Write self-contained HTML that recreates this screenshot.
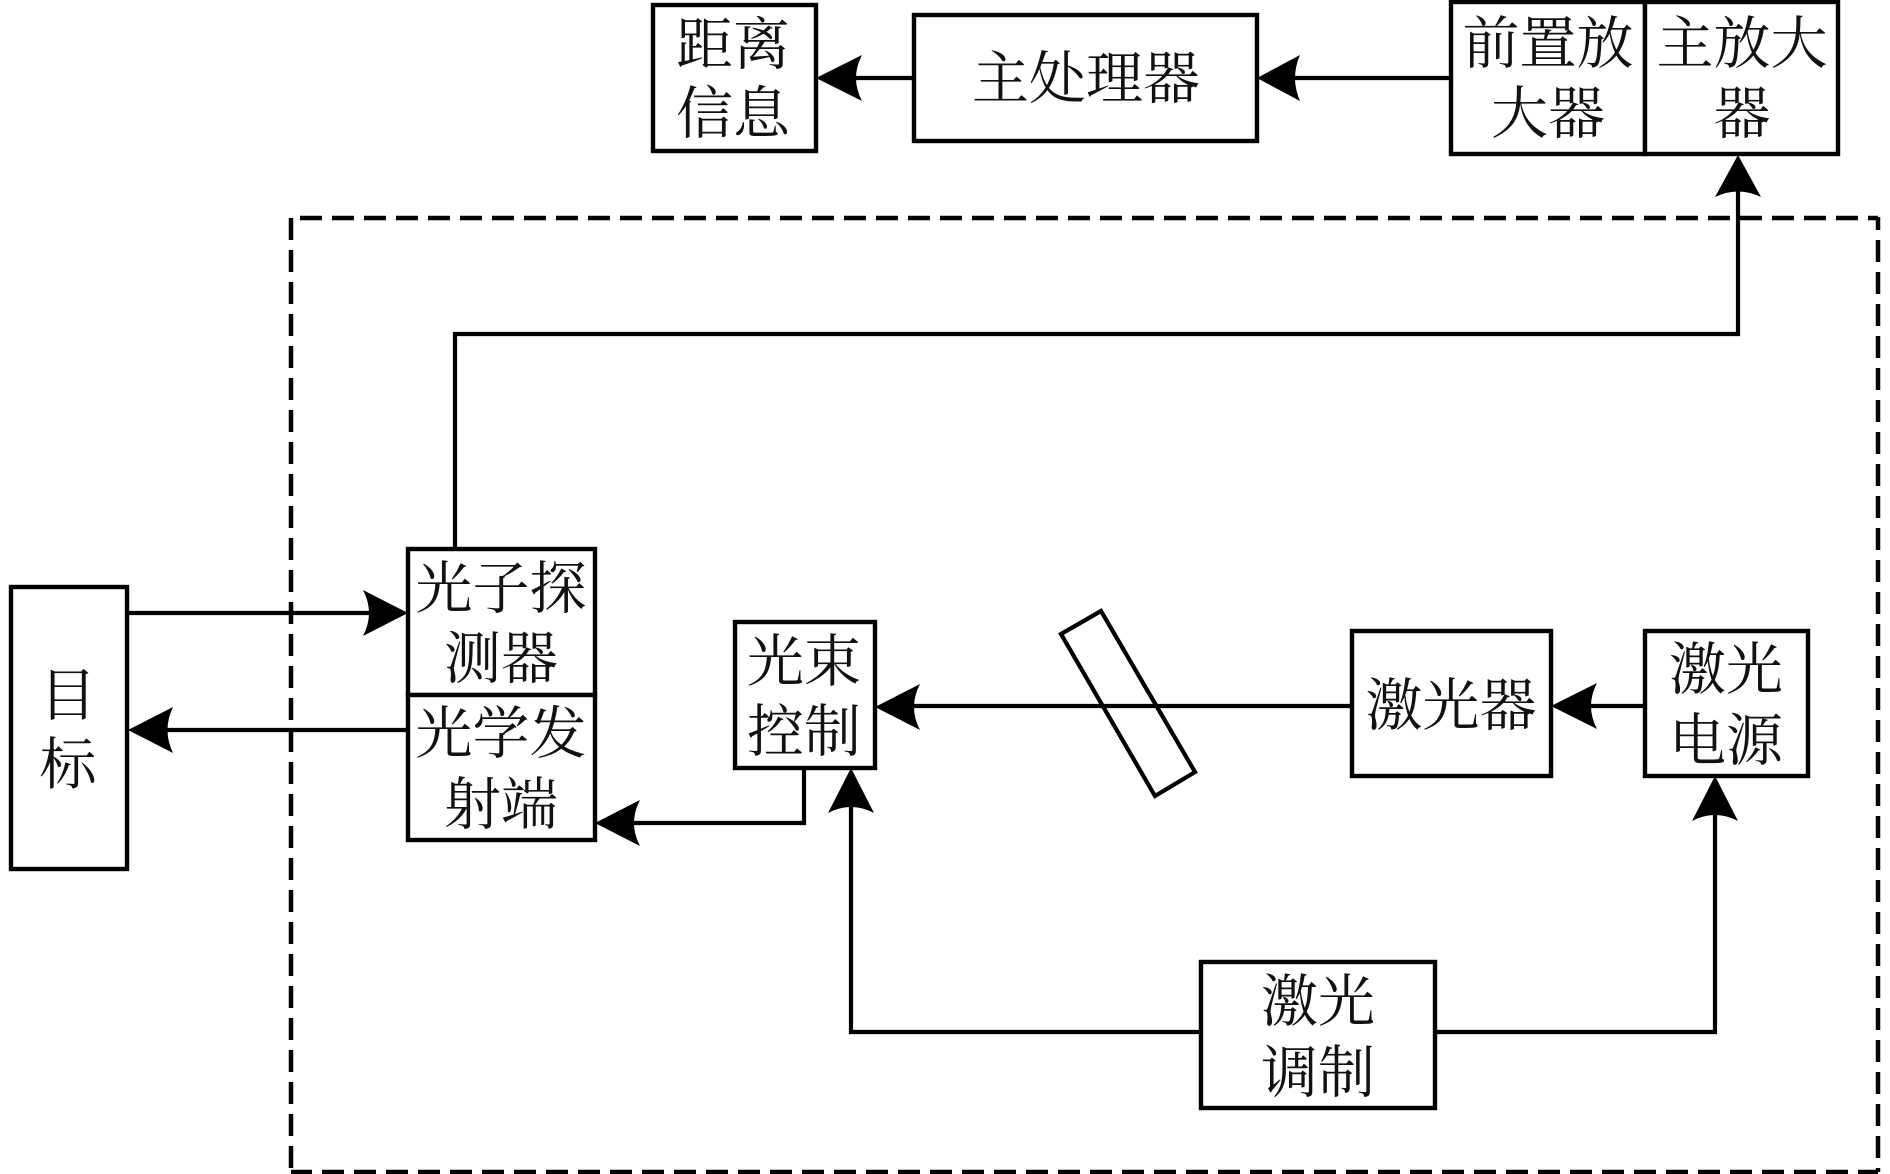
<!DOCTYPE html>
<html lang="zh">
<head>
<meta charset="utf-8">
<title>激光测距系统框图</title>
<style>
html,body{margin:0;padding:0;background:#fff;}
svg{display:block;}
text{font-family:"Liberation Serif","Noto Serif CJK SC",serif;font-size:57px;font-weight:400;fill:#111;text-anchor:middle;}
.b{fill:#fff;stroke:#000;stroke-width:4.4;stroke-linejoin:miter;}
.l{fill:none;stroke:#000;stroke-width:4.2;stroke-linejoin:miter;}
.a{fill:#000;stroke:none;}
.d{fill:none;stroke:#000;stroke-width:4.5;stroke-dasharray:22 10;}
</style>
</head>
<body>
<svg width="1890" height="1174" viewBox="0 0 1890 1174" xmlns="http://www.w3.org/2000/svg">
<rect width="1890" height="1174" fill="#fff"/>
<!-- dashed boundary -->
<path class="d" d="M291 218H1878" stroke-dashoffset="23"/>
<path class="d" d="M1878 217V1172" stroke-dashoffset="9"/>
<path class="d" d="M291 1172H1878" stroke-dashoffset="1"/>
<path class="d" d="M291 218V1174"/>

<!-- connectors -->
<path class="l" d="M914 78H845"/>
<path class="l" d="M1451 78H1285"/>
<path class="l" d="M455 549V334H1738V180"/>
<path class="l" d="M127 613H385"/>
<path class="l" d="M408 730H150"/>
<path class="l" d="M804 768V823H620"/>
<path class="l" d="M1352 706H900"/>
<path class="l" d="M1645 706H1575"/>
<path class="l" d="M1201 1032H851V790"/>
<path class="l" d="M1435 1032H1715V800"/>

<!-- mirror -->
<polygon points="1101,611 1061,634 1155,796 1195,772" fill="none" stroke="#000" stroke-width="4.2" stroke-linejoin="miter"/>

<!-- boxes -->
<rect class="b" x="653" y="5" width="163" height="146"/>
<rect class="b" x="914" y="15" width="343" height="126"/>
<rect class="b" x="1451" y="2" width="194" height="152"/>
<rect class="b" x="1645" y="2" width="193" height="152"/>
<rect class="b" x="11" y="587" width="116" height="282"/>
<rect class="b" x="408" y="549" width="187" height="146"/>
<rect class="b" x="408" y="695" width="187" height="145"/>
<rect class="b" x="735" y="622" width="140" height="146"/>
<rect class="b" x="1352" y="631" width="199" height="145"/>
<rect class="b" x="1645" y="631" width="163" height="145"/>
<rect class="b" x="1201" y="962" width="234" height="146"/>

<!-- arrowheads -->
<path class="a" d="M816 78L862 55Q850 78 862 101Z"/>
<path class="a" d="M1257 78L1300 55Q1290 78 1300 101Z"/>
<path class="a" d="M1738 155L1761 197Q1738 186 1715 197Z"/>
<path class="a" d="M408 613L363 590Q375 613 363 636Z"/>
<path class="a" d="M128 730L173 707Q162 730 173 753Z"/>
<path class="a" d="M595 823L640 800Q628 823 640 846Z"/>
<path class="a" d="M875 707L920 684Q908 707 920 730Z"/>
<path class="a" d="M1551 706L1597 683Q1585 706 1597 729Z"/>
<path class="a" d="M851 768L874 813Q851 801 828 813Z"/>
<path class="a" d="M1715 776L1738 821Q1715 809 1692 821Z"/>

<!-- labels -->
<text x="733" y="64">距离</text>
<text x="733" y="133">信息</text>
<text x="1086" y="98">主处理器</text>
<text x="1548" y="63">前置放</text>
<text x="1548" y="133">大器</text>
<text x="1742" y="63">主放大</text>
<text x="1742" y="133">器</text>
<text x="501" y="608">光子探</text>
<text x="501" y="678">测器</text>
<text x="501" y="753">光学发</text>
<text x="501" y="824">射端</text>
<text x="68" y="715">目</text>
<text x="68" y="784">标</text>
<text x="804" y="681">光束</text>
<text x="804" y="751">控制</text>
<text x="1451" y="725">激光器</text>
<text x="1726" y="689">激光</text>
<text x="1726" y="760">电源</text>
<text x="1318" y="1021">激光</text>
<text x="1318" y="1092">调制</text>
</svg>
</body>
</html>
